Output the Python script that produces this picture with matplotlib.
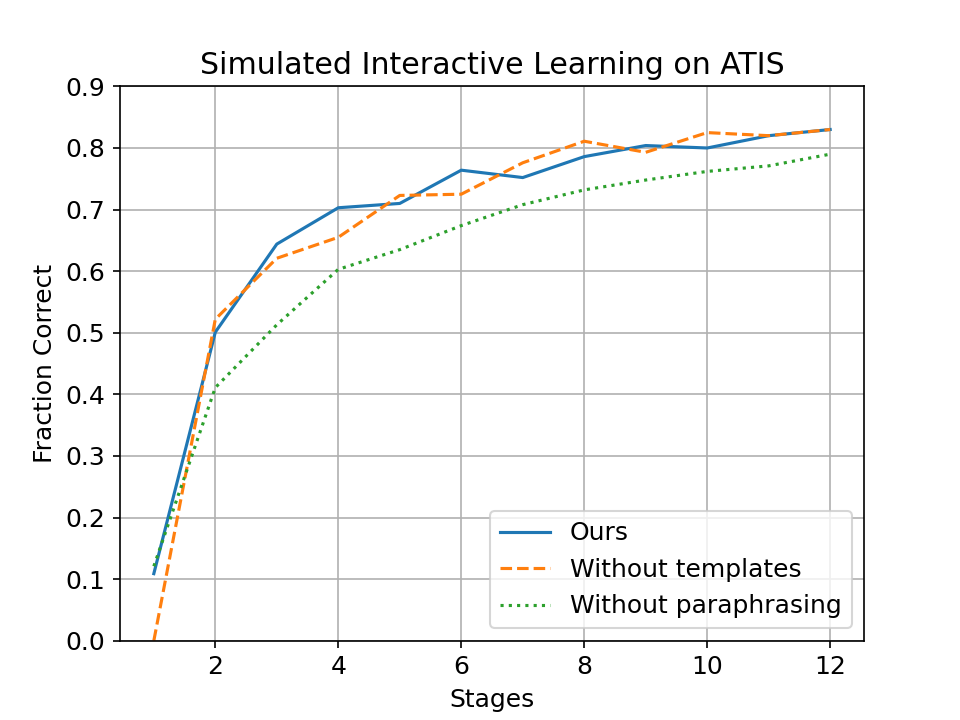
import matplotlib

matplotlib.use("Agg")
import matplotlib.pyplot as plt

stages = [1, 2, 3, 4, 5, 6, 7, 8, 9, 10, 11, 12]
ours = [0.109, 0.501, 0.644, 0.703, 0.710, 0.764, 0.752, 0.786, 0.804, 0.800, 0.820, 0.830]
no_templates = [0.0, 0.522, 0.621, 0.655, 0.723, 0.725, 0.776, 0.811, 0.793, 0.825, 0.820, 0.830]
no_paraphrasing = [0.121, 0.411, 0.513, 0.603, 0.635, 0.674, 0.708, 0.732, 0.748, 0.762, 0.771, 0.790]

plt.rcParams["font.size"] = 12

fig, ax = plt.subplots(figsize=(6.4, 4.8), dpi=150)
ax.plot(stages, ours, "-", label="Ours")
ax.plot(stages, no_templates, "--", label="Without templates")
ax.plot(stages, no_paraphrasing, ":", label="Without paraphrasing")
ax.set_ylim(0, 0.9)
ax.set_xlabel("Stages")
ax.set_ylabel("Fraction Correct")
ax.set_title("Simulated Interactive Learning on ATIS")
ax.grid(True)
ax.legend(loc="lower right")

fig.savefig("out.png", dpi=150)
